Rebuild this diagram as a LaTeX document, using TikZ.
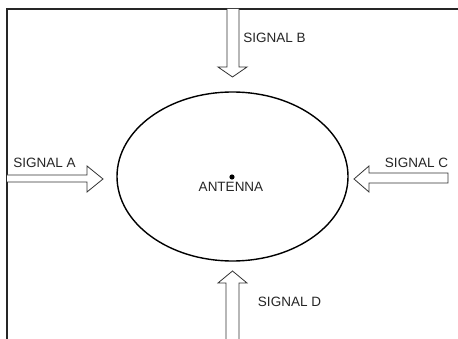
\documentclass[tikz,border=0pt]{standalone}
\usepackage{fontspec}
\setmainfont{Liberation Sans}
\begin{document}
\begin{tikzpicture}[x=1pt,y=-1pt,
  frameline/.style={line width=1.5pt,black!85},
  hollowarrow/.style={draw=black!80,line width=0.8pt,fill=white,line join=miter},
  lbl/.style={font=\fontsize{13.5}{15}\selectfont,text=black!85,inner sep=0pt},
  dish/.style={draw=black,line width=1.4pt}]
  % page
  \useasboundingbox (0,0) rectangle (458,339);
  \fill[white] (0,0) rectangle (458,339);
  % open frame: top and left edges
  \draw[frameline] (7,339) -- (7,9) -- (458,9);
  % coverage ellipse and antenna
  \draw[dish] (232.5,176.5) ellipse [x radius=115.5, y radius=84.5];
  \fill (232,177) circle [radius=2.6];
  \node[lbl] (antenna) at (231,187) {ANTENNA};
  % signal B: from the top
  \draw[hollowarrow] (227,9) -- (227,67) -- (218,67) -- (232.5,77) -- (247,67) -- (239,67) -- (239,9);
  \node[lbl] (sigB) at (274.5,38) {SIGNAL B};
  % signal A: from the left
  \draw[hollowarrow] (7,175) -- (87,175) -- (87,166) -- (103,179) -- (87,192) -- (87,182) -- (7,182);
  \node[lbl] (sigA) at (44.5,163) {SIGNAL A};
  % signal C: from the right
  \draw[hollowarrow] (448,173) -- (369,173) -- (369,166) -- (354,179) -- (369,192) -- (369,183) -- (448,183) -- cycle;
  \node[lbl] (sigC) at (416.5,163) {SIGNAL C};
  % signal D: from the bottom
  \draw[hollowarrow] (226,339) -- (226,283) -- (218,283) -- (232.5,271) -- (247,283) -- (239,283) -- (239,339);
  \node[lbl] (sigD) at (289.5,302) {SIGNAL D};
\end{tikzpicture}
\end{document}
